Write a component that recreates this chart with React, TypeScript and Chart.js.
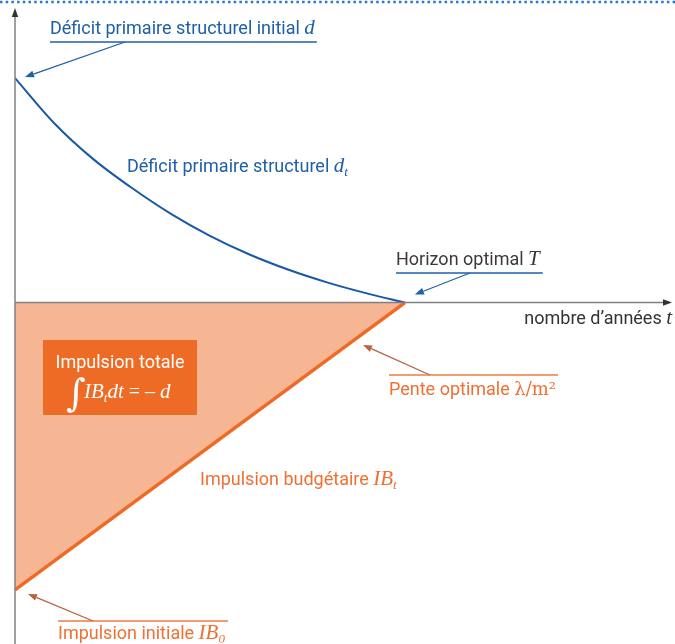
import React, { useEffect, useRef } from "react";
import { Chart, registerables } from "chart.js";
Chart.register(...registerables);

// ---- data ----
const years = [0, 1, 2, 3, 4, 5, 6, 7, 8, 9, 10];
const deficit = [1.0, 0.8, 0.64, 0.51, 0.395, 0.297, 0.215, 0.147, 0.09, 0.042, 0];
const impulseYears = [0, 10];
const impulse = [-1.28, 0];
const horizonT = 10;

const SANS = "Roboto, 'Noto Sans', sans-serif";
const SERIF = "'Liberation Serif', 'DejaVu Serif', serif";
const BLUE = "#1E5FA8";
const ORANGE = "#EE6B25";
const FILL = "#F6B593";
const ARROW_BROWN = "#B9623C";

type Seg = { t: string; f: string; dy?: number };

function drawSegs(ctx: CanvasRenderingContext2D, x: number, y: number, segs: Seg[], color: string) {
  ctx.fillStyle = color;
  ctx.textBaseline = "alphabetic";
  ctx.textAlign = "left";
  let cx = x;
  for (const s of segs) {
    ctx.font = s.f;
    ctx.fillText(s.t, cx, y + (s.dy || 0));
    cx += ctx.measureText(s.t).width;
  }
  return cx;
}

function segsWidth(ctx: CanvasRenderingContext2D, segs: Seg[]) {
  let w = 0;
  for (const s of segs) {
    ctx.font = s.f;
    w += ctx.measureText(s.t).width;
  }
  return w;
}

function arrow(ctx: CanvasRenderingContext2D, x1: number, y1: number, x2: number, y2: number, color: string, lw = 1.2, head = 9, hw = 3.5) {
  const ang = Math.atan2(y2 - y1, x2 - x1);
  const bx = x2 - head * Math.cos(ang);
  const by = y2 - head * Math.sin(ang);
  ctx.strokeStyle = color;
  ctx.lineWidth = lw;
  ctx.beginPath();
  ctx.moveTo(x1, y1);
  ctx.lineTo(bx, by);
  ctx.stroke();
  ctx.fillStyle = color;
  ctx.beginPath();
  ctx.moveTo(x2, y2);
  ctx.lineTo(bx + hw * Math.sin(ang), by - hw * Math.cos(ang));
  ctx.lineTo(bx - hw * Math.sin(ang), by + hw * Math.cos(ang));
  ctx.closePath();
  ctx.fill();
}

function line(ctx: CanvasRenderingContext2D, x1: number, y1: number, x2: number, y2: number, color: string, lw = 1.2) {
  ctx.strokeStyle = color;
  ctx.lineWidth = lw;
  ctx.beginPath();
  ctx.moveTo(x1, y1);
  ctx.lineTo(x2, y2);
  ctx.stroke();
}

const sans = (s: number) => `${s}px ${SANS}`;
const math = (s: number) => `italic ${s}px ${SERIF}`;
const TS = 18;
const MS = 21;
const SS = 13;

const annotations = {
  id: "annotations",
  afterDatasetsDraw(chart: any) {
    const { ctx, chartArea, scales } = chart;
    const xs = scales.x, ys = scales.y;
    const x0 = xs.getPixelForValue(0);
    const y0 = ys.getPixelForValue(0);
    ctx.save();

    // top dotted rule
    ctx.setLineDash([2.5, 3.2]);
    line(ctx, 0, 2, chart.width, 2, "#2C78C8", 2.5);
    ctx.setLineDash([]);

    // axes
    line(ctx, x0, y0, chartArea.right - 4, y0, "#808080", 1.5);
    line(ctx, x0, chartArea.bottom, x0, chartArea.top + 4, "#808080", 1.5);
    arrow(ctx, chartArea.right - 10, y0, chartArea.right, y0, "#333", 0.1, 9, 3.2);
    arrow(ctx, x0, chartArea.top + 10, x0, chartArea.top, "#333", 0.1, 9, 3.2);

    // Deficit initial
    const startY = ys.getPixelForValue(deficit[0]);
    const l1: Seg[] = [
      { t: "Déficit primaire structurel initial ", f: sans(TS) },
      { t: "d", f: math(MS) },
    ];
    drawSegs(ctx, 50, 34, l1, BLUE);
    const w1 = segsWidth(ctx, l1);
    line(ctx, 50, 42, 50 + w1 + 2, 42, BLUE, 1.3);
    arrow(ctx, 125, 42, x0 + 10, startY - 1, BLUE, 1.3);

    // Deficit d_t
    drawSegs(ctx, 127, 172, [
      { t: "Déficit primaire structurel ", f: sans(TS) },
      { t: "d", f: math(MS) },
      { t: "t", f: math(SS), dy: 4 },
    ], BLUE);

    // Horizon optimal T
    const hx = xs.getPixelForValue(horizonT);
    const l3: Seg[] = [
      { t: "Horizon optimal ", f: sans(TS) },
      { t: "T", f: math(MS) },
    ];
    drawSegs(ctx, 396, 265, l3, "#3A3A3A");
    line(ctx, 396, 273, 396 + segsWidth(ctx, l3) + 3, 273, BLUE, 1.3);
    arrow(ctx, 470, 273, hx + 10, y0 - 8, BLUE, 1.2);

    // axis label
    const l4: Seg[] = [
      { t: "nombre d’années ", f: sans(TS) },
      { t: "t", f: math(MS) },
    ];
    drawSegs(ctx, chartArea.right - segsWidth(ctx, l4), 324, l4, "#333");

    // Pente optimale
    const l5: Seg[] = [
      { t: "Pente optimale ", f: sans(TS) },
      { t: "λ/m²", f: `18px 'DejaVu Serif', serif` },
    ];
    drawSegs(ctx, 389, 395, l5, "#EF7033");
    line(ctx, 389, 375, 389 + segsWidth(ctx, l5) + 2, 375, "#EF7B45", 1.3);
    arrow(ctx, 430, 375, 363, 345, ARROW_BROWN, 1.3);

    // Impulsion budgétaire
    drawSegs(ctx, 200, 485, [
      { t: "Impulsion budgétaire ", f: sans(TS) },
      { t: "IB", f: math(MS) },
      { t: "t", f: math(SS), dy: 4 },
    ], "#EF7033");

    // Impulsion initiale
    const l7: Seg[] = [
      { t: "Impulsion initiale ", f: sans(TS) },
      { t: "IB", f: math(MS) },
      { t: "0", f: math(SS), dy: 4 },
    ];
    drawSegs(ctx, 58, 639, l7, "#EF7033");
    line(ctx, 58, 621, 58 + segsWidth(ctx, l7) + 3, 621, "#EF7B45", 1.3);
    arrow(ctx, 93, 621, x0 + 13, ys.getPixelForValue(impulse[0]) + 4, ARROW_BROWN, 1.3);

    // Impulsion totale box
    ctx.fillStyle = ORANGE;
    ctx.fillRect(43, 340, 154, 75);
    ctx.fillStyle = "#fff";
    ctx.font = sans(TS);
    ctx.textAlign = "center";
    ctx.fillText("Impulsion totale", 120, 368);
    ctx.textAlign = "left";
    drawSegs(ctx, 66, 406, [{ t: "∫", f: `italic 38px 'DejaVu Serif', serif` }], "#fff");
    drawSegs(ctx, 84, 398, [
      { t: "IB", f: math(MS) },
      { t: "t", f: math(SS), dy: 4 },
      { t: "dt", f: math(MS) },
      { t: " = – ", f: `20px ${SERIF}` },
      { t: "d", f: math(MS) },
    ], "#fff");

    ctx.restore();
  },
};

export default function App() {
  const ref = useRef<HTMLCanvasElement>(null);
  useEffect(() => {
    if (!ref.current) return;
    const chart = new Chart(ref.current, {
      type: "line",
      data: {
        datasets: [
          {
            label: "Impulsion budgétaire",
            data: impulseYears.map((x, i) => ({ x, y: impulse[i] })),
            borderColor: ORANGE,
            borderWidth: 3.5,
            backgroundColor: FILL,
            fill: "origin",
            pointRadius: 0,
            tension: 0,
          },
          {
            label: "Déficit primaire structurel",
            data: years.map((x, i) => ({ x, y: deficit[i] })),
            borderColor: "#1858A5",
            borderWidth: 2,
            fill: false,
            pointRadius: 0,
            cubicInterpolationMode: "monotone",
          },
        ],
      },
      options: {
        responsive: false,
        animation: false,
        layout: { padding: { left: 15, right: 3, top: 8, bottom: 0 } },
        plugins: { legend: { display: false }, tooltip: { enabled: false } },
        scales: {
          x: { type: "linear", min: 0, max: 16.85, display: false },
          y: { type: "linear", min: -1.521, max: 1.312, display: false },
        },
      },
      plugins: [annotations],
    });
    return () => chart.destroy();
  }, []);
  return (
    <div style={{ position: "fixed", left: 0, top: 0, width: 675, height: 644, background: "#fff" }}>
      <canvas ref={ref} width={675} height={644} style={{ display: "block" }} />
    </div>
  );
}
